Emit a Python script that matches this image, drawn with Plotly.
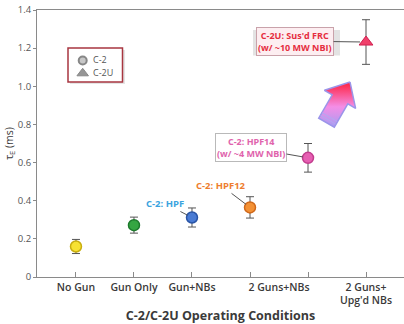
import plotly.graph_objects as go

# ---- data ----
tick_positions = [0, 1, 2, 3.5, 5]
tick_labels = ["No Gun", "Gun Only", "Gun+NBs", "2 Guns+NBs", "2 Guns+<br>Upg'd NBs"]
minor_tick_positions = [0, 1, 2, 3, 4, 5]

c2_x = [0, 1, 2, 3, 4]
c2_tau = [0.16, 0.272, 0.312, 0.365, 0.625]
c2_err = [0.037, 0.042, 0.05, 0.056, 0.075]
c2_fill = ["#f7e232", "#35a642", "#4a7bd4", "#f39135", "#e65fb2"]
c2_edge = ["#c9ae10", "#1d7a2c", "#2a55a6", "#d0681a", "#c23d8e"]

c2u_x = [5]
c2u_tau = [1.232]
c2u_err = [0.117]

legend_names = ["C-2", "C-2U"]

FONT = "Open Sans"
DARK = "#3a3a3a"
AX = "#8a8a8a"

# plot area in pixels (left, right, top, bottom)
PL, PR, PT, PB = 37, 404, 10, 277


def fx(px):
    return (px - PL) / (PR - PL)


def fy(py):
    return (PB - py) / (PB - PT)


fig = go.Figure()

# error bars + points (C-2)
fig.add_trace(go.Scatter(
    x=c2_x, y=c2_tau, mode="markers", showlegend=False,
    marker=dict(size=11, color=c2_fill, line=dict(color=c2_edge, width=1.5)),
    error_y=dict(type="data", array=c2_err, color="#555555", thickness=1, width=4),
))
# C-2U
fig.add_trace(go.Scatter(
    x=c2u_x, y=c2u_tau, mode="markers", showlegend=False,
    marker=dict(size=12, symbol="triangle-up", color="#f0406a",
                line=dict(color="#d02050", width=1)),
    error_y=dict(type="data", array=c2u_err, color="#555555", thickness=1, width=4),
))

# decorative arrow (plot-fraction coordinates on an overlay axis)
arrow_px = [(350, 82), (355.6, 108.3), (347.8, 103.8), (334.3, 127.2),
            (318.7, 118.2), (332.2, 94.8), (324.4, 90.3), (350, 82)]
fig.add_trace(go.Scatter(
    x=[fx(p[0]) for p in arrow_px], y=[fy(p[1]) for p in arrow_px],
    xaxis="x2", yaxis="y2", mode="lines",
    fill="toself", showlegend=False, hoverinfo="skip",
    line=dict(color="#9b95ea", width=1.5),
    fillgradient=dict(type="vertical", start=fy(127), stop=fy(82),
                      colorscale=[[0, "#a79cf2"], [0.45, "#f48ee6"], [1, "#ff1f3d"]]),
))
# tail stripes of the arrow
fig.add_trace(go.Scatter(
    x=[fx(320.5), fx(335.5), None, fx(322), fx(337)],
    y=[fy(115.3), fy(124), None, fy(112.7), fy(121.4)],
    xaxis="x2", yaxis="y2", mode="lines", showlegend=False, hoverinfo="skip",
    line=dict(color="#b3a8f2", width=1),
))

# hand-drawn legend (box, symbols, labels) on the overlay axis
fig.add_shape(type="rect", xref="x2", yref="y2",
              x0=fx(70), x1=fx(125), y0=fy(84), y1=fy(50),
              fillcolor="rgba(0,0,0,0.10)", line=dict(width=0), layer="below")
fig.add_shape(type="rect", xref="x2", yref="y2",
              x0=fx(68), x1=fx(122.5), y0=fy(82), y1=fy(48),
              fillcolor="white", line=dict(color="#a83640", width=1.5), layer="below")
fig.add_trace(go.Scatter(
    x=[fx(82.7), fx(82.7)], y=[fy(60.5), fy(73.3)], xaxis="x2", yaxis="y2",
    mode="markers", showlegend=False, hoverinfo="skip",
    marker=dict(size=[8, 10], symbol=["circle", "triangle-up"],
                color=["#b0b0b0", "#6a6a6a"],
                line=dict(color=["#555555", "#555555"], width=[2, 1])),
))
fig.add_trace(go.Scatter(
    x=[fx(93), fx(93)], y=[fy(60.5), fy(73.3)], xaxis="x2", yaxis="y2",
    mode="text", text=legend_names, textposition="middle right",
    textfont=dict(size=9, color="#555555", family=FONT),
    showlegend=False, hoverinfo="skip",
))

fig.update_layout(
    width=404, height=324,
    margin=dict(l=PL, r=404 - PR, t=PT, b=324 - PB, autoexpand=False),
    paper_bgcolor="white", plot_bgcolor="white",
    font=dict(family=FONT, color=DARK),
    showlegend=False,
    xaxis=dict(
        range=[-0.672, 5.655], showgrid=False, zeroline=False, automargin=False,
        showline=True, linecolor=AX, linewidth=1, mirror=True,
        tickvals=tick_positions, ticktext=tick_labels, ticks="",
        tickfont=dict(size=10.5, color=DARK, weight=600),
        minor=dict(tickvals=minor_tick_positions, ticks="inside", ticklen=5,
                   tickcolor=AX, showgrid=False),
        title=dict(text="C-2/C-2U Operating Conditions", standoff=6,
                   font=dict(size=12.5, color=DARK, weight=700)),
    ),
    yaxis=dict(
        range=[0, 1.4], showgrid=False, zeroline=False, automargin=False,
        showline=True, linecolor=AX, linewidth=1,
        tickvals=[0, 0.2, 0.4, 0.6, 0.8, 1.0, 1.2, 1.4],
        ticktext=["0", "0.2", "0.4", "0.6", "0.8", "1.0", "1.2", "1.4"],
        ticks="outside", ticklen=3, tickcolor=AX,
        tickfont=dict(size=9.5, color="#555555"),
        title=dict(text="τ<sub>E</sub> (ms)", standoff=2,
                   font=dict(size=10.5, color=DARK)),
    ),
    xaxis2=dict(overlaying="x", range=[0, 1], visible=False, fixedrange=True),
    yaxis2=dict(overlaying="y", range=[0, 1], visible=False, fixedrange=True),
)

# soft shadow for the C-2U box
fig.add_shape(type="rect", xref="x2", yref="y2",
              x0=fx(253), x1=fx(340), y0=fy(55.5), y1=fy(30),
              fillcolor="rgba(0,0,0,0.11)", line=dict(width=0), layer="below")

# point labels
fig.add_annotation(x=2, y=c2_tau[2], text="<b>C-2: HPF</b>", showarrow=True,
                   ax=-27, ay=-14, arrowhead=0, arrowwidth=1, arrowcolor="#555555",
                   standoff=5, font=dict(size=9.5, color="#3aa3de"))
fig.add_annotation(x=3, y=c2_tau[3], text="<b>C-2: HPF12</b>", showarrow=True,
                   ax=-29, ay=-22, arrowhead=0, arrowwidth=1, arrowcolor="#555555",
                   standoff=5, font=dict(size=9.5, color="#ee7d2e"))
fig.add_annotation(x=4, y=c2_tau[4], text="<b>C-2: HPF14</b><br><b>(w/ ~4 MW NBI)</b>",
                   showarrow=True, ax=-57, ay=-10, arrowhead=0, arrowwidth=1,
                   arrowcolor="#555555", standoff=5,
                   bgcolor="white", bordercolor="#b9b9b9", borderwidth=1, borderpad=1,
                   font=dict(size=9, color="#e063ac"))
fig.add_annotation(x=5, y=c2u_tau[0], text="<b>C-2U: Sus'd FRC</b><br><b>(w/ ~10 MW NBI)</b>",
                   showarrow=True, ax=-71, ay=-1, arrowhead=0, arrowwidth=1,
                   arrowcolor="#555555", standoff=6,
                   bgcolor="#fdeef1", bordercolor="#c9a2aa", borderwidth=1, borderpad=1,
                   font=dict(size=9, color="#e52d3f"))

fig.write_html(
    "out.html",
    config={"displayModeBar": False},
    post_script="document.body.style.margin='0px';document.body.style.padding='0px';",
)
